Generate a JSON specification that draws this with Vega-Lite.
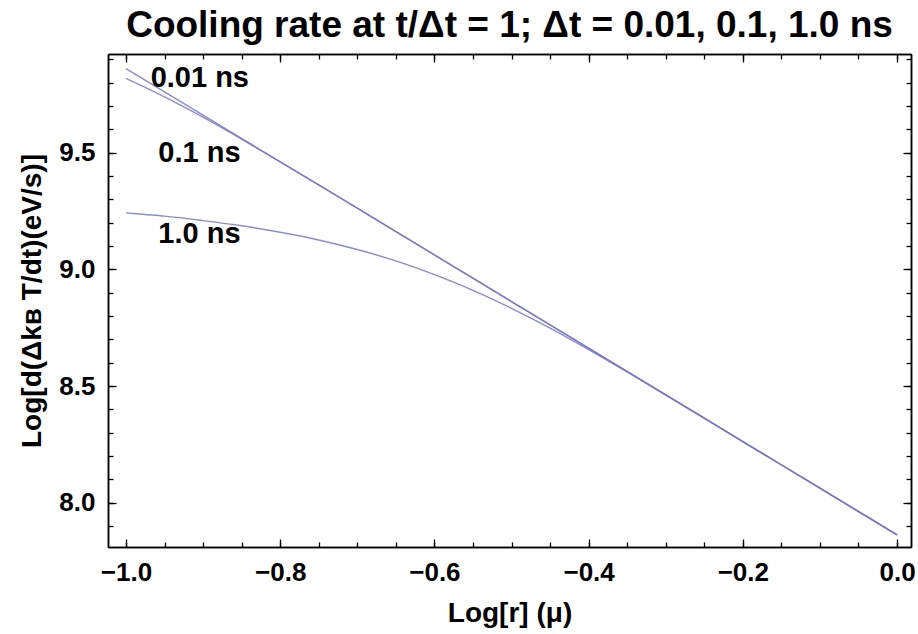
{
  "$schema": "https://vega.github.io/schema/vega-lite/v6.json",
  "width": 803,
  "height": 493,
  "autosize": {"type": "none"},
  "padding": {"left": 108, "top": 54, "right": 7, "bottom": 87},
  "background": "white",
  "title": {
    "text": "Cooling rate at t/Δt = 1; Δt = 0.01, 0.1, 1.0 ns",
    "font": "Liberation Sans",
    "fontSize": 37,
    "fontWeight": "bold",
    "color": "black",
    "anchor": "middle",
    "frame": "group",
    "offset": 8
  },
  "config": {
    "view": {"stroke": null},
    "axis": {
      "domainColor": "black",
      "domainWidth": 1.5,
      "tickColor": "black",
      "tickWidth": 1.3,
      "grid": false,
      "labelFont": "Liberation Sans",
      "labelFontWeight": "bold",
      "labelFontSize": 26,
      "labelColor": "black",
      "titleFont": "Liberation Sans",
      "titleFontWeight": "bold",
      "titleFontSize": 28,
      "titleColor": "black"
    }
  },
  "datasets": {
    "curves": [
      {"series": "0.01 ns", "x": -1.0, "y": 9.860},
      {"series": "0.01 ns", "x": -0.9, "y": 9.661},
      {"series": "0.01 ns", "x": -0.8, "y": 9.461},
      {"series": "0.01 ns", "x": -0.7, "y": 9.262},
      {"series": "0.01 ns", "x": -0.6, "y": 9.062},
      {"series": "0.01 ns", "x": -0.5, "y": 8.862},
      {"series": "0.01 ns", "x": -0.4, "y": 8.662},
      {"series": "0.01 ns", "x": -0.3, "y": 8.462},
      {"series": "0.01 ns", "x": -0.2, "y": 8.262},
      {"series": "0.01 ns", "x": -0.1, "y": 8.062},
      {"series": "0.01 ns", "x": 0.0, "y": 7.862},
      {"series": "0.1 ns", "x": -1.0, "y": 9.819},
      {"series": "0.1 ns", "x": -0.975, "y": 9.780},
      {"series": "0.1 ns", "x": -0.95, "y": 9.739},
      {"series": "0.1 ns", "x": -0.9, "y": 9.652},
      {"series": "0.1 ns", "x": -0.85, "y": 9.558},
      {"series": "0.1 ns", "x": -0.8, "y": 9.461},
      {"series": "0.1 ns", "x": -0.75, "y": 9.362},
      {"series": "0.1 ns", "x": -0.7, "y": 9.262},
      {"series": "0.1 ns", "x": -0.6, "y": 9.062},
      {"series": "0.1 ns", "x": -0.5, "y": 8.862},
      {"series": "0.1 ns", "x": -0.4, "y": 8.662},
      {"series": "0.1 ns", "x": -0.3, "y": 8.462},
      {"series": "0.1 ns", "x": -0.2, "y": 8.262},
      {"series": "0.1 ns", "x": -0.1, "y": 8.062},
      {"series": "0.1 ns", "x": 0.0, "y": 7.862},
      {"series": "1.0 ns", "x": -1.0, "y": 9.242},
      {"series": "1.0 ns", "x": -0.975, "y": 9.235},
      {"series": "1.0 ns", "x": -0.95, "y": 9.228},
      {"series": "1.0 ns", "x": -0.9, "y": 9.209},
      {"series": "1.0 ns", "x": -0.85, "y": 9.187},
      {"series": "1.0 ns", "x": -0.8, "y": 9.159},
      {"series": "1.0 ns", "x": -0.75, "y": 9.126},
      {"series": "1.0 ns", "x": -0.7, "y": 9.085},
      {"series": "1.0 ns", "x": -0.65, "y": 9.036},
      {"series": "1.0 ns", "x": -0.6, "y": 8.977},
      {"series": "1.0 ns", "x": -0.55, "y": 8.910},
      {"series": "1.0 ns", "x": -0.5, "y": 8.833},
      {"series": "1.0 ns", "x": -0.45, "y": 8.748},
      {"series": "1.0 ns", "x": -0.4, "y": 8.656},
      {"series": "1.0 ns", "x": -0.35, "y": 8.560},
      {"series": "1.0 ns", "x": -0.3, "y": 8.4616},
      {"series": "1.0 ns", "x": -0.25, "y": 8.362},
      {"series": "1.0 ns", "x": -0.2, "y": 8.262},
      {"series": "1.0 ns", "x": -0.1, "y": 8.062},
      {"series": "1.0 ns", "x": 0.0, "y": 7.862}
    ],
    "labels": [
      {"label": "0.01 ns", "x": -0.968, "y": 9.82},
      {"label": "0.1 ns", "x": -0.958, "y": 9.50},
      {"label": "1.0 ns", "x": -0.958, "y": 9.15}
    ]
  },
  "layer": [
    {
      "data": {"name": "curves"},
      "mark": {"type": "line", "color": "#7878c0", "strokeWidth": 1.4, "opacity": 0.85, "clip": true, "interpolate": "monotone"},
      "encoding": {
        "x": {"field": "x", "type": "quantitative",
          "scale": {"domain": [-1.0233, 0.0181], "nice": false, "zero": false},
          "axis": {"orient": "bottom", "values": [-1.0, -0.8, -0.6, -0.4, -0.2, 0.0], "format": ".1f",
            "tickSize": -8, "labelPadding": 20, "title": "Log[r] (μ)", "titlePadding": 14}},
        "y": {"field": "y", "type": "quantitative",
          "scale": {"domain": [7.81, 9.923], "nice": false, "zero": false},
          "axis": {"orient": "left", "values": [8.0, 8.5, 9.0, 9.5], "format": ".1f",
            "tickSize": -8, "labelPadding": 21, "title": "Log[d(Δkʙ T/dt)(eV/s)]", "titlePadding": 12}},
        "detail": {"field": "series", "type": "nominal"}
      }
    },
    {
      "data": {"name": "curves"},
      "mark": {"type": "line", "opacity": 0},
      "encoding": {
        "x": {"field": "x", "type": "quantitative",
          "axis": {"orient": "bottom", "values": [-1.0, -0.95, -0.9, -0.85, -0.8, -0.75, -0.7, -0.65, -0.6, -0.55, -0.5, -0.45, -0.4, -0.35, -0.3, -0.25, -0.2, -0.15, -0.1, -0.05, 0.0],
            "labels": false, "tickSize": -5, "title": null}},
        "y": {"field": "y", "type": "quantitative",
          "axis": {"orient": "left", "values": [7.9, 8.0, 8.1, 8.2, 8.3, 8.4, 8.5, 8.6, 8.7, 8.8, 8.9, 9.0, 9.1, 9.2, 9.3, 9.4, 9.5, 9.6, 9.7, 9.8, 9.9],
            "labels": false, "tickSize": -5, "title": null}},
        "detail": {"field": "series", "type": "nominal"}
      }
    },
    {
      "data": {"name": "curves"},
      "mark": {"type": "line", "opacity": 0},
      "encoding": {
        "x": {"field": "x", "type": "quantitative",
          "axis": {"orient": "top", "values": [-1.0, -0.95, -0.9, -0.85, -0.8, -0.75, -0.7, -0.65, -0.6, -0.55, -0.5, -0.45, -0.4, -0.35, -0.3, -0.25, -0.2, -0.15, -0.1, -0.05, 0.0],
            "labels": false, "tickSize": -5, "title": null}},
        "y": {"field": "y", "type": "quantitative",
          "axis": {"orient": "right", "values": [7.9, 8.0, 8.1, 8.2, 8.3, 8.4, 8.5, 8.6, 8.7, 8.8, 8.9, 9.0, 9.1, 9.2, 9.3, 9.4, 9.5, 9.6, 9.7, 9.8, 9.9],
            "labels": false, "tickSize": -5, "title": null}},
        "detail": {"field": "series", "type": "nominal"}
      }
    },
    {
      "data": {"name": "curves"},
      "mark": {"type": "line", "opacity": 0},
      "encoding": {
        "x": {"field": "x", "type": "quantitative",
          "axis": {"orient": "top", "values": [-1.0, -0.8, -0.6, -0.4, -0.2, 0.0],
            "labels": false, "tickSize": -8, "title": null}},
        "y": {"field": "y", "type": "quantitative",
          "axis": {"orient": "right", "values": [8.0, 8.5, 9.0, 9.5],
            "labels": false, "tickSize": -8, "title": null}},
        "detail": {"field": "series", "type": "nominal"}
      }
    },
    {
      "data": {"name": "labels"},
      "mark": {"type": "text", "align": "left", "baseline": "middle", "font": "Liberation Sans", "fontWeight": "bold", "fontSize": 29, "color": "black"},
      "encoding": {
        "x": {"field": "x", "type": "quantitative", "axis": null},
        "y": {"field": "y", "type": "quantitative", "axis": null},
        "text": {"field": "label", "type": "nominal"}
      }
    }
  ],
  "resolve": {"axis": {"x": "independent", "y": "independent"}}
}
